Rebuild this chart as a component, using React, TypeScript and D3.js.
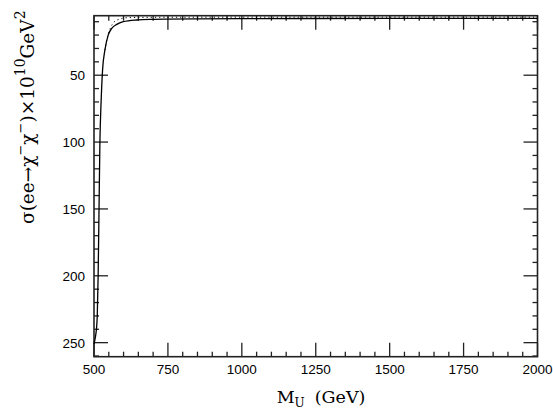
import React from "react";
import * as d3 from "d3";

// solid curve: M_U (GeV) vs sigma
const solidM = [500, 503, 506, 509, 511, 514, 517, 520, 524, 529, 537, 548, 560, 577, 599, 644, 700, 745, 850, 1000, 1250, 1500, 1750, 2000];
const solidS = [251, 248, 244, 238, 230, 200, 150, 100, 70, 46, 31, 20, 15, 12, 10, 8.7, 8.2, 8.0, 7.8, 7.7, 7.6, 7.55, 7.5, 7.5];

// dotted curve
const dotM = [537, 545, 555, 568, 584, 611, 650, 700, 800, 1000, 1500, 2000];
const dotS = [31, 22, 15, 10.2, 8.2, 7.0, 6.8, 6.7, 6.65, 6.6, 6.6, 6.6];

const xMajor = [500, 750, 1000, 1250, 1500, 1750, 2000];
const yMajor = [50, 100, 150, 200, 250];

const W = 553,
  H = 419;
const left = 94,
  right = 537.5,
  top = 15.7,
  bottom = 356.7;

const App: React.FC = () => {
  const x = d3.scaleLinear().domain([500, 2000]).range([left, right]);
  const y = d3.scaleLinear().domain([5.5, 260.5]).range([top, bottom]);

  const line = d3
    .line<[number, number]>()
    .x((d) => x(d[0]))
    .y((d) => y(d[1]))
    .curve(d3.curveMonotoneX);

  const solid = line(solidM.map((m, i) => [m, solidS[i]] as [number, number])) || "";
  const dotted = line(dotM.map((m, i) => [m, dotS[i]] as [number, number])) || "";

  const xMinor = d3.range(500, 2001, 50).filter((v) => v % 250 !== 0);
  const yMinor = d3.range(10, 261, 10).filter((v) => v % 50 !== 0);

  const tickColor = "#222";
  const major = 14,
    minor = 5;
  const serif = "'DejaVu Serif', serif";

  return (
    <svg width={W} height={H} style={{ position: "absolute", left: 0, top: 0 }}>
      <rect width={W} height={H} fill="#fff" />
      <g stroke={tickColor} strokeWidth={1.3}>
        {xMajor.map((v) => (
          <g key={"xm" + v}>
            <line x1={x(v)} x2={x(v)} y1={bottom} y2={bottom - major} />
            <line x1={x(v)} x2={x(v)} y1={top} y2={top + major} />
          </g>
        ))}
        {xMinor.map((v) => (
          <g key={"xn" + v}>
            <line x1={x(v)} x2={x(v)} y1={bottom} y2={bottom - minor} />
            <line x1={x(v)} x2={x(v)} y1={top} y2={top + minor} />
          </g>
        ))}
        {yMajor.map((v) => (
          <g key={"ym" + v}>
            <line x1={left} x2={left + major} y1={y(v)} y2={y(v)} />
            <line x1={right} x2={right - major} y1={y(v)} y2={y(v)} />
          </g>
        ))}
        {yMinor.map((v) => (
          <g key={"yn" + v}>
            <line x1={left} x2={left + minor} y1={y(v)} y2={y(v)} />
            <line x1={right} x2={right - minor} y1={y(v)} y2={y(v)} />
          </g>
        ))}
      </g>
      <rect
        x={left}
        y={top}
        width={right - left}
        height={bottom - top}
        fill="none"
        stroke={tickColor}
        strokeWidth={1.6}
      />
      <path d={dotted} fill="none" stroke="#000" strokeWidth={1} strokeDasharray="1.2 3" />
      <path d={solid} fill="none" stroke="#000" strokeWidth={1.3} />

      <g fontFamily="'Liberation Sans', Arial, sans-serif" fontSize={13.5} fill="#000">
        {xMajor.map((v) => (
          <text key={"xl" + v} x={x(v)} y={373.5} textAnchor="middle">
            {v}
          </text>
        ))}
        {yMajor.map((v) => (
          <text key={"yl" + v} x={85} y={y(v)} dy="0.36em" textAnchor="end">
            {v}
          </text>
        ))}
      </g>

      <text x={276.7} y={403} fontFamily={serif} fontSize={17.5}>
        M<tspan fontSize={12} dy={4}>U</tspan>
        <tspan dy={-4} dx={10}>(GeV)</tspan>
      </text>

      <text transform="translate(34,224) rotate(-90)" textAnchor="start" fontFamily={serif} fontSize={18.5}>
        σ(ee→χ<tspan fontSize={13} dy={-9}>−</tspan>
        <tspan dy={9}>χ</tspan>
        <tspan fontSize={13} dy={-9}>−</tspan>
        <tspan dy={9}>)×10</tspan>
        <tspan fontSize={14} dy={-9}>10</tspan>
        <tspan dy={9}>GeV</tspan>
        <tspan fontSize={14} dy={-9}>2</tspan>
      </text>
    </svg>
  );
};

export default App;
